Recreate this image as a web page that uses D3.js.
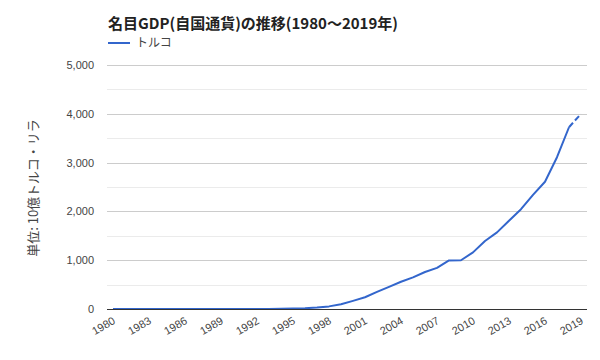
<!DOCTYPE html>
<html><head><meta charset="utf-8">
<script src="https://cdn.jsdelivr.net/npm/d3@7"></script>
<style>body{margin:0;background:#fff;} svg{display:block;font-family:"Liberation Sans","Noto Sans CJK JP",sans-serif;}</style>
</head><body><svg id="c" width="600" height="360"></svg>
<script>
const years = d3.range(1980, 2020);
const values = [0.0046,0.0069,0.0091,0.0121,0.019,0.030,0.042,0.063,0.110,0.198,0.397,0.635,1.1,2.0,3.9,7.9,14.9,29.4,53.5,96,166.7,240.2,350.5,454.8,559.0,648.9,758.4,843.2,994.8,999.2,1160.0,1394.5,1569.7,1809.7,2044.5,2338.6,2608.5,3110.7,3724.4,4000];
const yTicks = [0,1000,2000,3000,4000,5000];
const yMinor = [500,1500,2500,3500,4500];
const xTickYears = d3.range(1980, 2020, 3);
const title = "名目GDP(自国通貨)の推移(1980〜2019年)";
const seriesName = "トルコ";
const yTitle = "単位: 10億トルコ・リラ";

const cjk = '"Noto Sans CJK JP","Liberation Sans",sans-serif';
const svg = d3.select("#c");
const pL = 107, pR = 587, pT = 65, pB = 309;
const x = d3.scalePoint().domain(years).range([pL, pR]).padding(0.5);
const y = d3.scaleLinear().domain([0, 5000]).range([pB, pT]);

svg.append("g").selectAll("line").data(yMinor).join("line")
  .attr("x1", pL).attr("x2", pR).attr("y1", d=>Math.round(y(d))+0.5).attr("y2", d=>Math.round(y(d))+0.5)
  .attr("stroke", "#ebebeb");
svg.append("g").selectAll("line").data(yTicks.slice(1)).join("line")
  .attr("x1", pL).attr("x2", pR).attr("y1", d=>Math.round(y(d))+0.5).attr("y2", d=>Math.round(y(d))+0.5)
  .attr("stroke", "#cccccc");

svg.append("g").selectAll("text").data(yTicks).join("text")
  .attr("x", 94).attr("y", d=>y(d)+4).attr("text-anchor","end")
  .attr("font-size", 11).attr("fill", "#444").text(d=>d3.format(",")(d));

svg.append("g").selectAll("text").data(xTickYears).join("text")
  .attr("transform", d=>`translate(${x(d)+3},${pB+14}) rotate(-30)`)
  .attr("text-anchor","end").attr("font-size", 11).attr("fill", "#444").text(d=>d);

const line = d3.line().x(d=>x(d[0])).y(d=>y(d[1]));
const pts = years.map((yr,i)=>[yr, values[i]]);
svg.append("path").attr("d", line(pts.slice(0, pts.length-1)))
  .attr("fill","none").attr("stroke","#3366cc").attr("stroke-width",2).attr("stroke-linejoin","round");
svg.append("path").attr("d", line(pts.slice(pts.length-2)))
  .attr("fill","none").attr("stroke","#3366cc").attr("stroke-width",2).attr("stroke-dasharray","6,3");

svg.append("line").attr("x1", pL).attr("x2", pR).attr("y1", pB+0.5).attr("y2", pB+0.5)
  .attr("stroke", "#333");

svg.append("text").attr("x", 108).attr("y", 29).attr("font-size", 15).attr("font-weight","bold")
  .attr("font-family", cjk).attr("fill","#222").text(title);
svg.append("line").attr("x1",108).attr("x2",130).attr("y1",43).attr("y2",43).attr("stroke","#3366cc").attr("stroke-width",2);
svg.append("text").attr("x",136).attr("y",47).attr("font-size",12).attr("font-family", cjk).attr("fill","#444").text(seriesName);

svg.append("text").attr("transform","translate(38,188) rotate(-90)").attr("text-anchor","middle")
  .attr("font-size",13).attr("font-family", cjk).attr("fill","#444").text(yTitle);
</script></body></html>
